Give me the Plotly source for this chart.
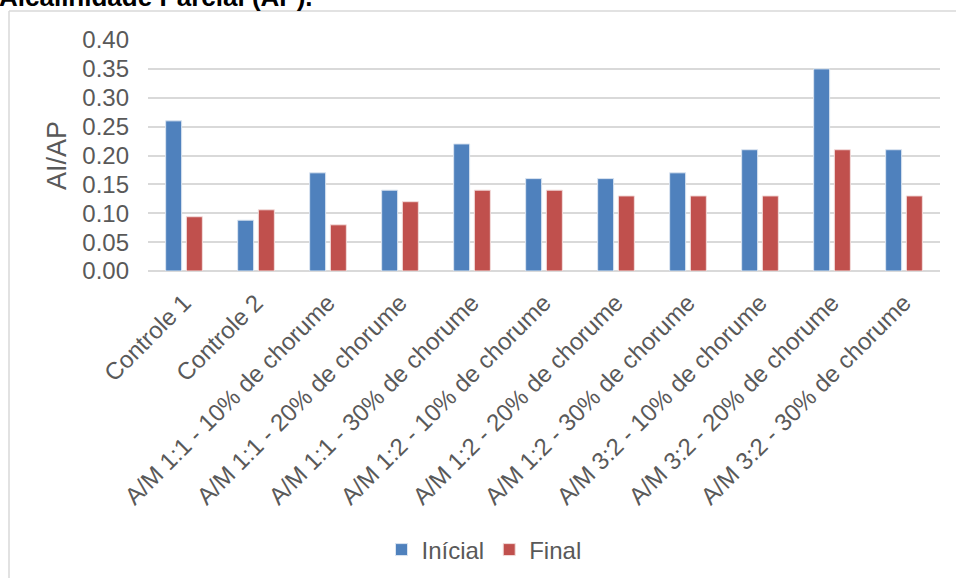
import plotly.graph_objects as go

categories = [
    "Controle 1", "Controle 2",
    "A/M 1:1 - 10% de chorume", "A/M 1:1 - 20% de chorume", "A/M 1:1 - 30% de chorume",
    "A/M 1:2 - 10% de chorume", "A/M 1:2 - 20% de chorume", "A/M 1:2 - 30% de chorume",
    "A/M 3:2 - 10% de chorume", "A/M 3:2 - 20% de chorume", "A/M 3:2 - 30% de chorume",
]
inicial = [0.26, 0.088, 0.17, 0.14, 0.22, 0.16, 0.16, 0.17, 0.21, 0.35, 0.21]
final = [0.094, 0.106, 0.08, 0.12, 0.14, 0.14, 0.13, 0.13, 0.13, 0.21, 0.13]
y_ticks = [0.0, 0.05, 0.10, 0.15, 0.20, 0.25, 0.30, 0.35, 0.40]

W, H = 956, 578
L, R, T, B = 148, 16, 40, 307
PW, PH = W - L - R, H - T - B


def px(x):
    return (x - L) / PW


def py(y):
    return (H - B - y) / PH


FONT = "Liberation Sans, Arial, sans-serif"
GREY = "#595959"

fig = go.Figure()
fig.add_trace(go.Bar(
    x=categories, y=inicial, name="Inícial",
    marker=dict(color="#4F81BD", line=dict(color="#dbe5f1", width=1)),
))
fig.add_trace(go.Bar(
    x=categories, y=final, name="Final",
    marker=dict(color="#C0504D", line=dict(color="#f2dcdb", width=1)),
))

fig.update_layout(
    width=W, height=H,
    margin=dict(l=L, r=R, t=T, b=B, autoexpand=False),
    paper_bgcolor="white", plot_bgcolor="white",
    barmode="group", bargap=0.425, bargroupgap=0.227,
    font=dict(family=FONT, size=24, color=GREY),
    showlegend=True,
    legend=dict(
        orientation="h", x=px(484), y=py(550), xanchor="center", yanchor="middle",
        font=dict(size=24, color=GREY), itemwidth=30, tracegroupgap=0,
        bgcolor="rgba(0,0,0,0)",
    ),
    xaxis=dict(
        tickangle=-45, showgrid=False, showline=False, ticks="",
        ticklabelstandoff=12,
        tickfont=dict(size=24, color=GREY),
    ),
    yaxis=dict(
        range=[0, 0.4], tickvals=y_ticks, tickformat=".2f",
        showgrid=True, gridcolor="#d9d9d9", gridwidth=1.5,
        zeroline=True, zerolinecolor="#d9d9d9", zerolinewidth=1.5,
        showline=False, ticks="", ticklabelstandoff=18,
        tickfont=dict(size=24, color=GREY),
    ),
    annotations=[
        dict(
            text="AI/AP", textangle=-90, showarrow=False,
            xref="paper", yref="paper", x=px(57), y=py(156),
            xanchor="center", yanchor="middle",
            font=dict(size=27, color=GREY, family=FONT),
        ),
        dict(
            text="<b>Alcalinidade Parcial (AP).</b>", showarrow=False,
            xref="paper", yref="paper", x=px(-3), y=py(14),
            xanchor="left", yanchor="bottom",
            font=dict(size=26, color="black", family=FONT),
        ),
    ],
    shapes=[
        dict(type="line", xref="paper", yref="paper",
             x0=px(9), x1=px(956), y0=py(11), y1=py(11),
             line=dict(color="#d9d9d9", width=1.5)),
        dict(type="line", xref="paper", yref="paper",
             x0=px(9), x1=px(9), y0=py(11), y1=py(578),
             line=dict(color="#d9d9d9", width=1.5)),
    ],
)

fig.write_html("out.html")
